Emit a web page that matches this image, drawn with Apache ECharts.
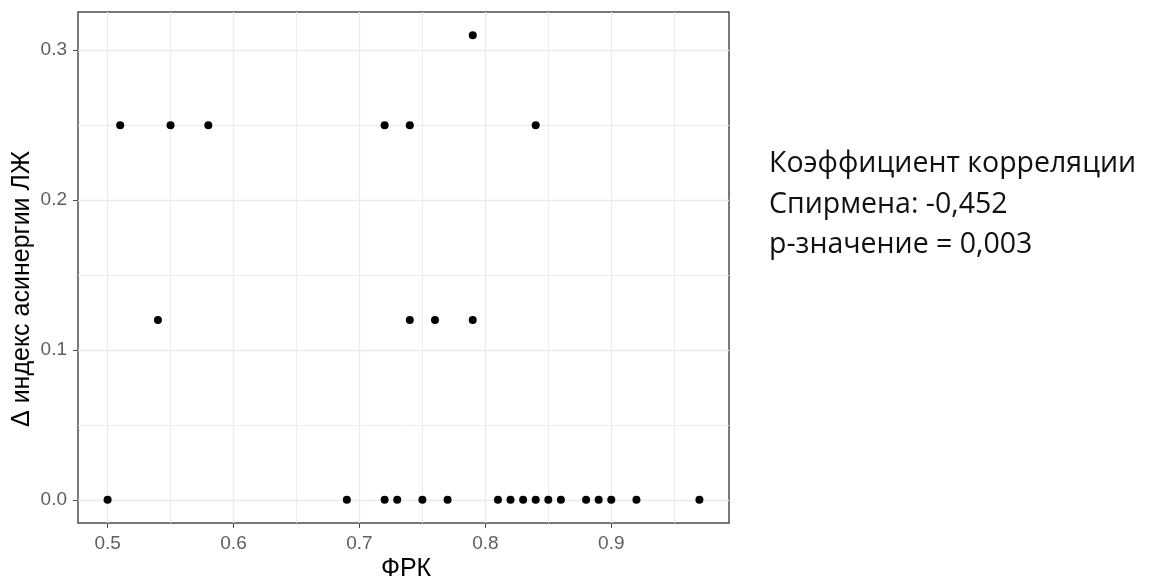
<!DOCTYPE html>
<html>
<head>
<meta charset="utf-8">
<script src="https://cdn.jsdelivr.net/npm/echarts@6/dist/echarts.min.js"></script>
<style>
  html, body { margin: 0; padding: 0; background: #fff; }
  #chart { width: 1153px; height: 580px; }
</style>
</head>
<body>
<div id="chart"></div>
<script>
// ФРК values (x) and Δ индекс асинергии ЛЖ (y)
const frk = [
  0.51, 0.55, 0.58, 0.72, 0.74, 0.84,
  0.79,
  0.54, 0.74, 0.76, 0.79,
  0.50, 0.69, 0.72, 0.73, 0.75, 0.77, 0.81, 0.82, 0.83, 0.84,
  0.85, 0.86, 0.88, 0.89, 0.90, 0.92, 0.97
]
const deltaIndex = [
  0.25, 0.25, 0.25, 0.25, 0.25, 0.25,
  0.31,
  0.12, 0.12, 0.12, 0.12,
  0, 0, 0, 0, 0, 0, 0, 0, 0, 0,
  0, 0, 0, 0, 0, 0, 0
]
const xTicks = [0.5, 0.6, 0.7, 0.8, 0.9]
const yTicks = [0, 0.1, 0.2, 0.3]
const noteLines = [
  'Коэффициент корреляции',
  'Спирмена: -0,452',
  'p-значение = 0,003'
]

const chart = echarts.init(document.getElementById('chart'))

const points = frk.map((x, i) => [x, deltaIndex[i]])

// ggplot-style 5% padding around the data range
const xMin = Math.min(...frk), xMax = Math.max(...frk)
const yMin = Math.min(...deltaIndex), yMax = Math.max(...deltaIndex)
const xPad = (xMax - xMin) * 0.05
const yPad = (yMax - yMin) * 0.05

const gridColor = '#ebebeb'
const labelColor = '#5e5e5e'
const tickColor = '#4d4d4d'

const option = {
  animation: false,
  grid: {
    left: 78,
    top: 12,
    right: 424,
    bottom: 57,
    show: true,
    borderColor: '#4d4d4d',
    borderWidth: 1.5,
    backgroundColor: '#fff'
  },
  xAxis: {
    type: 'value',
    min: xMin - xPad,
    max: xMax + xPad,
    splitNumber: 5,
    axisLine: { show: false, onZero: false },
    axisTick: {
      show: true,
      length: 5,
      lineStyle: { color: tickColor },
      customValues: xTicks
    },
    axisLabel: {
      customValues: xTicks,
      color: labelColor,
      fontSize: 19,
      fontFamily: 'Liberation Sans, Arial, sans-serif',
      margin: 11,
      formatter: v => v.toFixed(1)
    },
    splitLine: { show: true, lineStyle: { color: gridColor, width: 1.3 } },
    minorTick: { show: false, splitNumber: 2 },
    minorSplitLine: { show: true, lineStyle: { color: gridColor, width: 0.9 } }
  },
  yAxis: {
    type: 'value',
    min: yMin - yPad,
    max: yMax + yPad,
    splitNumber: 4,
    axisLine: { show: false, onZero: false },
    axisTick: {
      show: true,
      length: 5,
      lineStyle: { color: tickColor },
      customValues: yTicks
    },
    axisLabel: {
      customValues: yTicks,
      color: labelColor,
      fontSize: 19,
      fontFamily: 'Liberation Sans, Arial, sans-serif',
      margin: 11,
      formatter: v => v.toFixed(1)
    },
    splitLine: { show: true, lineStyle: { color: gridColor, width: 1.3 } },
    minorTick: { show: false, splitNumber: 2 },
    minorSplitLine: { show: true, lineStyle: { color: gridColor, width: 0.9 } }
  },
  series: [
    {
      type: 'scatter',
      data: points,
      symbol: 'circle',
      symbolSize: 8,
      itemStyle: { color: '#000', opacity: 1 },
      emphasis: { disabled: true }
    }
  ],
  graphic: [
    {
      type: 'text',
      x: 22,
      y: 289,
      rotation: Math.PI / 2,
      style: {
        text: 'Δ индекс асинергии ЛЖ',
        font: '25px "Liberation Sans", Arial, sans-serif',
        fill: '#000',
        align: 'center',
        verticalAlign: 'middle'
      }
    },
    {
      type: 'text',
      x: 406,
      y: 569,
      style: {
        text: 'ФРК',
        font: '25px "Liberation Sans", Arial, sans-serif',
        fill: '#000',
        align: 'center',
        verticalAlign: 'middle'
      }
    },
    {
      type: 'text',
      left: 769,
      top: 144,
      style: {
        text: noteLines.join('\n'),
        font: '28.5px "Open Sans", sans-serif',
        lineHeight: 40.5,
        fill: '#111'
      }
    }
  ]
}

chart.setOption(option)

window.addEventListener('resize', () => {
  if (chart) {
    chart.resize()
  }
})
</script>
</body>
</html>
